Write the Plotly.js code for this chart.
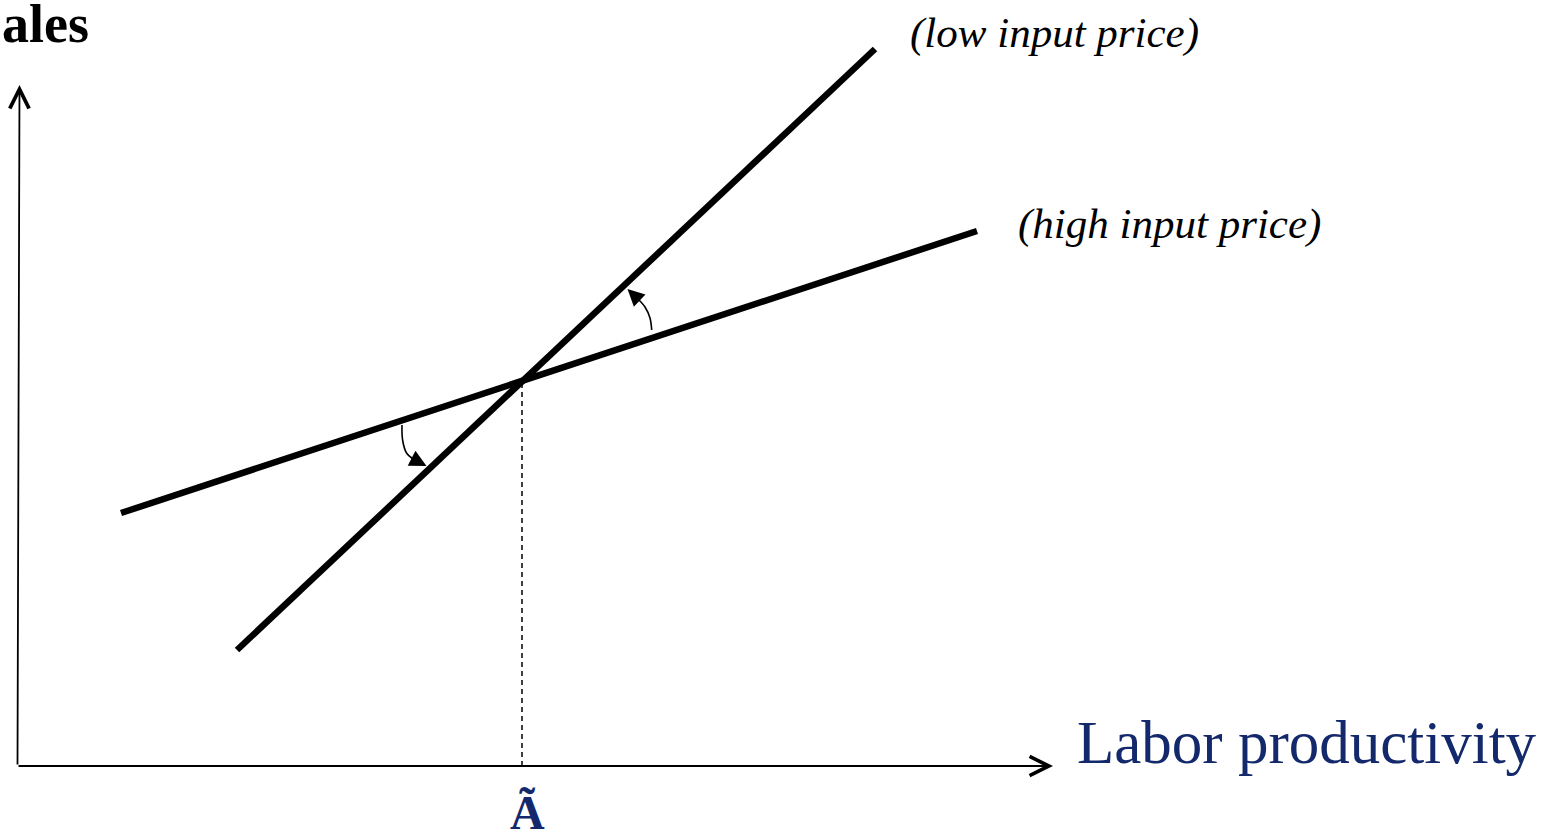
<!DOCTYPE html>
<html>
<head>
<meta charset="utf-8">
<script src="https://cdn.plot.ly/plotly-3.0.1.min.js"></script>
<style>html,body{margin:0;padding:0;background:#fff;}#chart{width:1550px;height:834px;}</style>
</head>
<body>
<div id="chart"></div>
<script>
// Conceptual diagram data (units: distance from origin)
const lowPriceX = [219, 857];
const lowPriceY = [116, 717];
const highPriceX = [103, 959];
const highPriceY = [253, 535];
const thresholdX = [504, 504];
const thresholdY = [0, 386];
const curveDownX = [384, 384.6, 388.5, 395];
const curveDownY = [341, 326, 313, 307];
const curveDownTip = [408.5, 300];
const curveUpX = [633.7, 632, 627, 620];
const curveUpY = [436, 448, 459, 467];
const curveUpTip = [609.5, 477];
const xAxisEnd = [1035, 0];
const yAxisEnd = [1.5, 681];

const labels = {
  yTitle: 'ales',
  xTitle: 'Labor productivity',
  threshold: 'Ã',
  low: '(low input price)',
  high: '(high input price)'
};

const navy = '#13296b';
const serif = 'Liberation Serif, Times New Roman, serif';

const traces = [
  {x: lowPriceX, y: lowPriceY, mode: 'lines', line: {color: '#000', width: 6.5}, hoverinfo: 'skip'},
  {x: highPriceX, y: highPriceY, mode: 'lines', line: {color: '#000', width: 6.5}, hoverinfo: 'skip'},
  {x: thresholdX, y: thresholdY, mode: 'lines', line: {color: '#000', width: 1.5, dash: '5px,4px'}, hoverinfo: 'skip'},
  {x: curveDownX, y: curveDownY, mode: 'lines', line: {color: '#000', width: 1.6, shape: 'spline'}, hoverinfo: 'skip'},
  {x: curveUpX, y: curveUpY, mode: 'lines', line: {color: '#000', width: 1.6, shape: 'spline'}, hoverinfo: 'skip'}
];

function arrow(fromX, fromY, toX, toY, head, width, size) {
  return {x: toX, y: toY, ax: fromX, ay: fromY, xref: 'x', yref: 'y', axref: 'x', ayref: 'y',
    text: '', showarrow: true, arrowhead: head, arrowwidth: width, arrowsize: size, arrowcolor: '#000', standoff: 0};
}

const annotations = [
  arrow(-1, 0, xAxisEnd[0], xAxisEnd[1], 5, 1.8, 2.1),
  arrow(-0.5, 0, yAxisEnd[0], yAxisEnd[1], 5, 1.8, 2.1),
  arrow(curveDownX[3], curveDownY[3], curveDownTip[0], curveDownTip[1], 2, 1.6, 2.1),
  arrow(curveUpX[3], curveUpY[3], curveUpTip[0], curveUpTip[1], 2, 1.6, 2.1),
  {x: -18, y: 742, xref: 'x', yref: 'y', text: '<b>' + labels.yTitle + '</b>', showarrow: false,
   xanchor: 'left', yanchor: 'middle', font: {family: serif, size: 54, color: '#000'}},
  {x: 1057, y: 24, xref: 'x', yref: 'y', text: labels.xTitle, showarrow: false,
   xanchor: 'left', yanchor: 'middle', font: {family: serif, size: 61, color: navy}},
  {x: 509, y: -46, xref: 'x', yref: 'y', text: '<b>' + labels.threshold + '</b>', showarrow: false,
   xanchor: 'center', yanchor: 'middle', font: {family: serif, size: 48, color: navy}},
  {x: 890, y: 733, xref: 'x', yref: 'y', text: '<i>' + labels.low + '</i>', showarrow: false,
   xanchor: 'left', yanchor: 'middle', font: {family: serif, size: 43, color: '#000'}},
  {x: 998, y: 542, xref: 'x', yref: 'y', text: '<i>' + labels.high + '</i>', showarrow: false,
   xanchor: 'left', yanchor: 'middle', font: {family: serif, size: 43, color: '#000'}}
];

const layout = {
  width: 1550, height: 834,
  margin: {l: 0, r: 0, t: 0, b: 0, pad: 0},
  paper_bgcolor: '#fff', plot_bgcolor: '#fff',
  showlegend: false,
  xaxis: {range: [-18, 1532], visible: false, fixedrange: true},
  yaxis: {range: [-68, 766], visible: false, fixedrange: true},
  annotations: annotations
};

Plotly.newPlot('chart', traces, layout, {staticPlot: true, displayModeBar: false});
</script>
</body>
</html>
